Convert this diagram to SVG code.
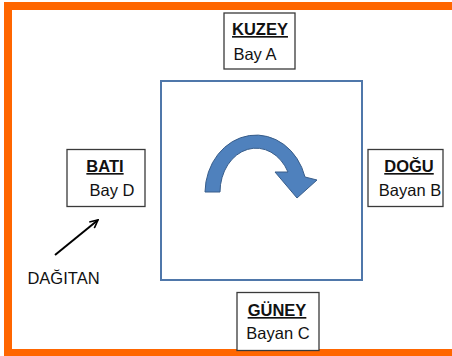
<svg xmlns="http://www.w3.org/2000/svg" width="452" height="356" viewBox="0 0 452 356">
<style>
.box{fill:#fff;stroke:#3a3a3a;stroke-width:1.3}
.t{font-family:"Liberation Sans",Arial,sans-serif;font-size:16.5px;fill:#111;text-anchor:middle}
.h{font-weight:bold;text-decoration:underline}
</style>
<defs>
<marker id="ah" viewBox="0 0 10 10" refX="9" refY="5" markerWidth="5" markerHeight="5" orient="auto" markerUnits="strokeWidth">
<path d="M1,1 L9,5 L1,9" fill="none" stroke="#000" stroke-width="1.6" stroke-linejoin="miter"/>
</marker>
</defs>
<rect width="452" height="356" fill="#fff"/>
<path d="M452,6 H8 V353 H452" fill="none" stroke="#ff6600" stroke-width="8" stroke-linejoin="miter"/>
<g id="table">
<rect x="161" y="81" width="201" height="199" fill="#fff" stroke="#4f77aa" stroke-width="2"/>
<path d="M205,192 A51,58 0 0 1 305,177 L317,180 L297,198 L275,172 L288,172 A36,44 0 0 0 220,192 Z" fill="#4f81bd" stroke="#385d8a" stroke-width="1"/>
</g>
<g id="kuzey">
<rect class="box" x="224" y="13" width="71" height="56"/>
<text class="t h" x="260" y="35">KUZEY</text>
<text class="t" x="255" y="60">Bay A</text>
</g>
<g id="bati">
<rect class="box" x="67" y="149.5" width="78" height="57"/>
<text class="t h" x="105" y="172">BATI</text>
<text class="t" x="112" y="196">Bay D</text>
</g>
<g id="dogu">
<rect class="box" x="368" y="149.5" width="75" height="57"/>
<text class="t h" x="409" y="172">DOĞU</text>
<text class="t" x="410" y="196">Bayan B</text>
</g>
<g id="guney">
<rect class="box" x="237" y="292.5" width="82" height="58"/>
<text class="t h" x="277" y="316">GÜNEY</text>
<text class="t" x="278" y="339">Bayan C</text>
</g>
<g id="dagitan">
<text class="t" x="63.5" y="284">DAĞITAN</text>
</g>
<g id="connectors">
<line x1="55" y1="255" x2="98" y2="220" stroke="#000" stroke-width="2" marker-end="url(#ah)"/>
</g>
</svg>
